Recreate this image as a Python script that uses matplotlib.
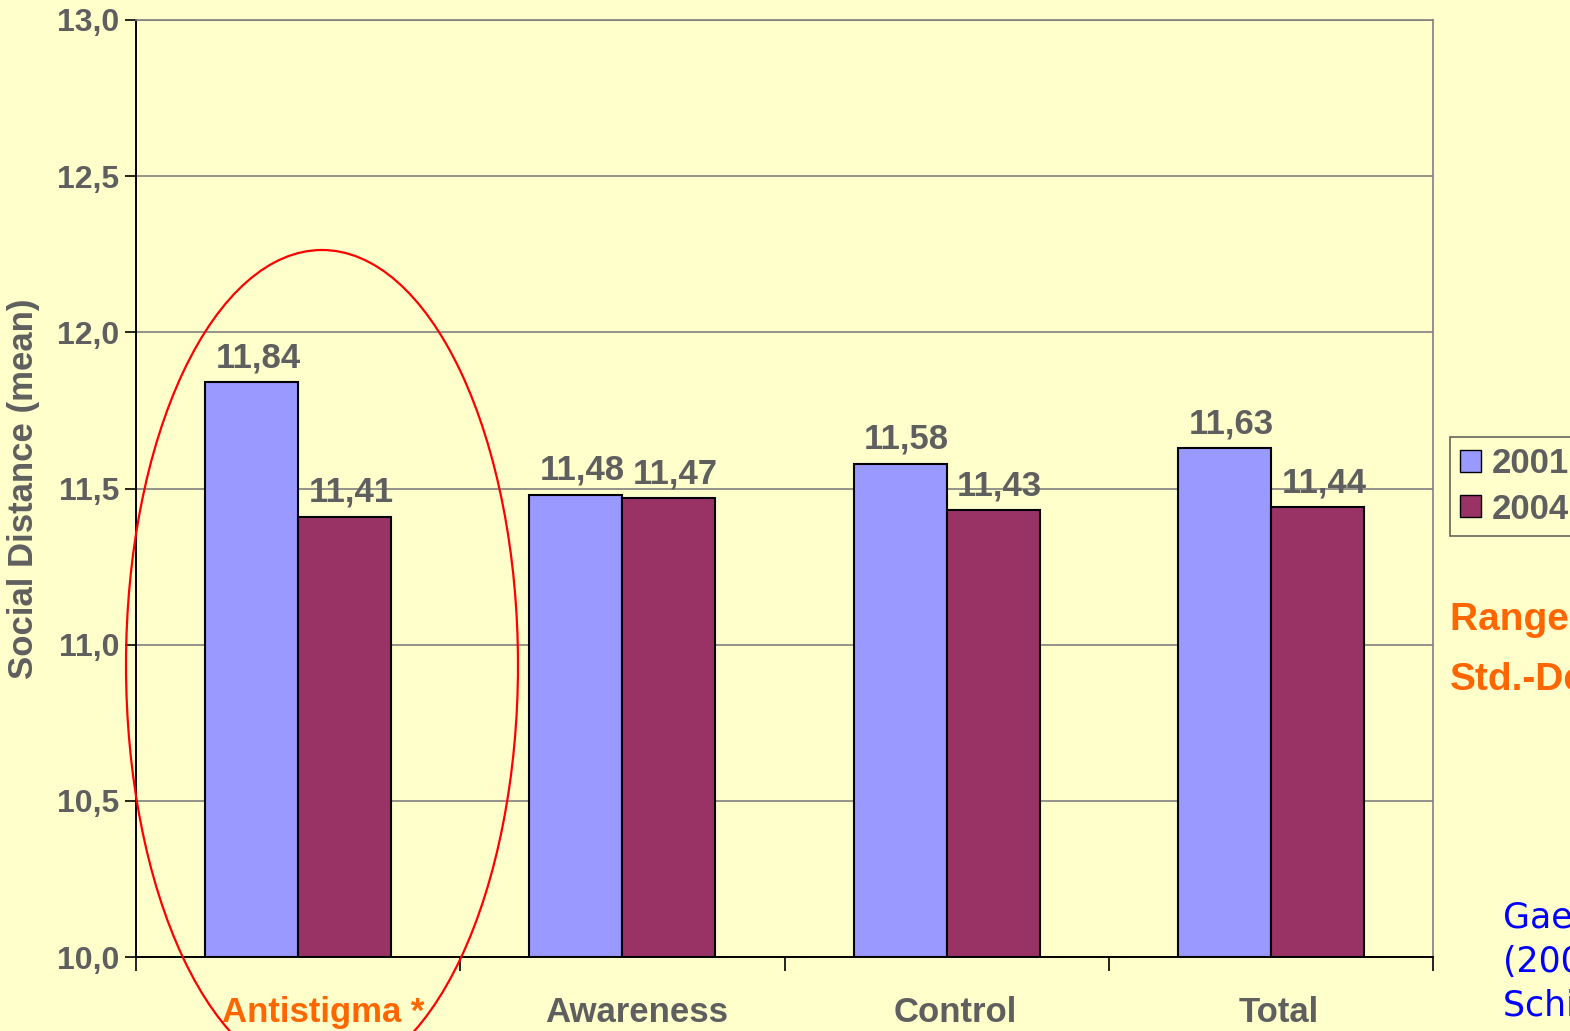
import numpy as np
import matplotlib.pyplot as plt
import matplotlib.transforms as mtransforms
from matplotlib.patches import Ellipse, Patch

plt.rcParams['font.family'] = ['Liberation Sans', 'DejaVu Sans']
plt.rcParams['font.weight'] = 'bold'

# data
categories = ['Antistigma *', 'Awareness', 'Control', 'Total']
years = ['2001', '2004']
vals_2001 = [11.84, 11.48, 11.58, 11.63]
vals_2004 = [11.41, 11.47, 11.43, 11.44]
labels_2001 = ['11,84', '11,48', '11,58', '11,63']
labels_2004 = ['11,41', '11,47', '11,43', '11,44']
yticks = [10.0, 10.5, 11.0, 11.5, 12.0, 12.5, 13.0]
ytick_labels = ['10,0', '10,5', '11,0', '11,5', '12,0', '12,5', '13,0']

bg = '#FFFFCC'
grey = '#5F5F5F'
orange = '#FF6600'

fig = plt.figure(figsize=(15.7, 10.31), dpi=100, facecolor=bg)
ax = fig.add_axes([136/1570, 1-957/1031, (1433-136)/1570, (957-20)/1031])
ax.set_facecolor(bg)

x = np.arange(len(categories))
w = 93/324.25
b1 = ax.bar(x - w/2, np.array(vals_2001) - 10, w, bottom=10, color='#9999FF',
            edgecolor='black', linewidth=1.5, zorder=3)
b2 = ax.bar(x + w/2, np.array(vals_2004) - 10, w, bottom=10, color='#993366',
            edgecolor='black', linewidth=1.5, zorder=3)

for xi, v, lab in zip(x - w/2, vals_2001, labels_2001):
    ax.text(xi + 0.02, v + 0.025, lab, ha='center', va='bottom', fontsize=25,
            color=grey, fontweight='bold')
for xi, v, lab in zip(x + w/2, vals_2004, labels_2004):
    ax.text(xi + 0.02, v + 0.025, lab, ha='center', va='bottom', fontsize=25,
            color=grey, fontweight='bold')

ax.set_ylim(10, 13)
ax.set_xlim(-0.5, len(categories) - 0.5)
ax.set_yticks(yticks)
ax.set_yticklabels(ytick_labels, fontsize=23, color=grey, fontweight='bold')
ax.tick_params(axis='y', length=8, width=1.2, pad=4)
ax.yaxis.grid(True, color='#808080', linewidth=1.2, zorder=0)

ax.set_xticks(np.arange(len(categories) + 1) - 0.5)
ax.set_xticklabels([])
ax.tick_params(axis='x', which='major', length=10, width=1.2)
ax.set_xticks(x, minor=True)
ax.set_xticklabels(categories, minor=True, fontsize=25, fontweight='bold')
ax.tick_params(axis='x', which='minor', length=0, pad=28)
shifts = [25, 14, 9, 8]
for t, c, s in zip(ax.get_xticklabels(minor=True), [orange, grey, grey, grey], shifts):
    t.set_color(c)
    t.set_transform(t.get_transform() +
                    mtransforms.ScaledTranslation(s/100, 0, fig.dpi_scale_trans))

ax.set_ylabel('Social Distance (mean)', fontsize=25, color=grey,
              fontweight='bold', labelpad=12)

for s in ['left', 'bottom']:
    ax.spines[s].set_color('black')
    ax.spines[s].set_linewidth(1.4)
for s in ['top', 'right']:
    ax.spines[s].set_color('#808080')
    ax.spines[s].set_linewidth(1.2)

# red ellipse around Antistigma
ell = Ellipse((322/1570, 1-665/1031), 392/1570, 830/1031,
              transform=fig.transFigure, fill=False, edgecolor='red',
              linewidth=1.6, clip_on=False, zorder=10)
fig.patches.append(ell)

# legend
handles = [Patch(facecolor='#9999FF', edgecolor='black'),
           Patch(facecolor='#993366', edgecolor='black')]
leg = fig.legend(handles, years, loc='upper left',
                 bbox_to_anchor=(1450/1570, 1-437/1031), borderaxespad=0,
                 prop={'size': 25, 'weight': 'bold'}, frameon=True,
                 fancybox=False, handlelength=0.6, handleheight=0.6,
                 handletextpad=0.3, borderpad=0.3, labelspacing=0.35)
leg.get_frame().set_edgecolor('#404040')
leg.get_frame().set_facecolor(bg)
leg.get_frame().set_linewidth(1.2)
for t in leg.get_texts():
    t.set_color(grey)

# side notes (cut off by the figure edge, as in the original slide)
fig.text(1450/1570, 1-620/1031, 'Range: 7-28', fontsize=28, color=orange,
         fontweight='bold', va='center')
fig.text(1450/1570, 1-680/1031, 'Std.-Dev.', fontsize=28, color=orange,
         fontweight='bold', va='center')
fig.text(1503/1570, 1-918/1031, 'Gaebel et al.', fontsize=25, color='#0000FF',
         fontweight='normal', va='center', family=['DejaVu Sans'])
fig.text(1503/1570, 1-962/1031, '(2008)', fontsize=25, color='#0000FF',
         fontweight='normal', va='center', family=['DejaVu Sans'])
fig.text(1503/1570, 1-1006/1031, 'Schizophr. Res.', fontsize=25, color='#0000FF',
         fontweight='normal', va='center', family=['DejaVu Sans'])

fig.savefig('out.png', dpi=100, facecolor=bg)
